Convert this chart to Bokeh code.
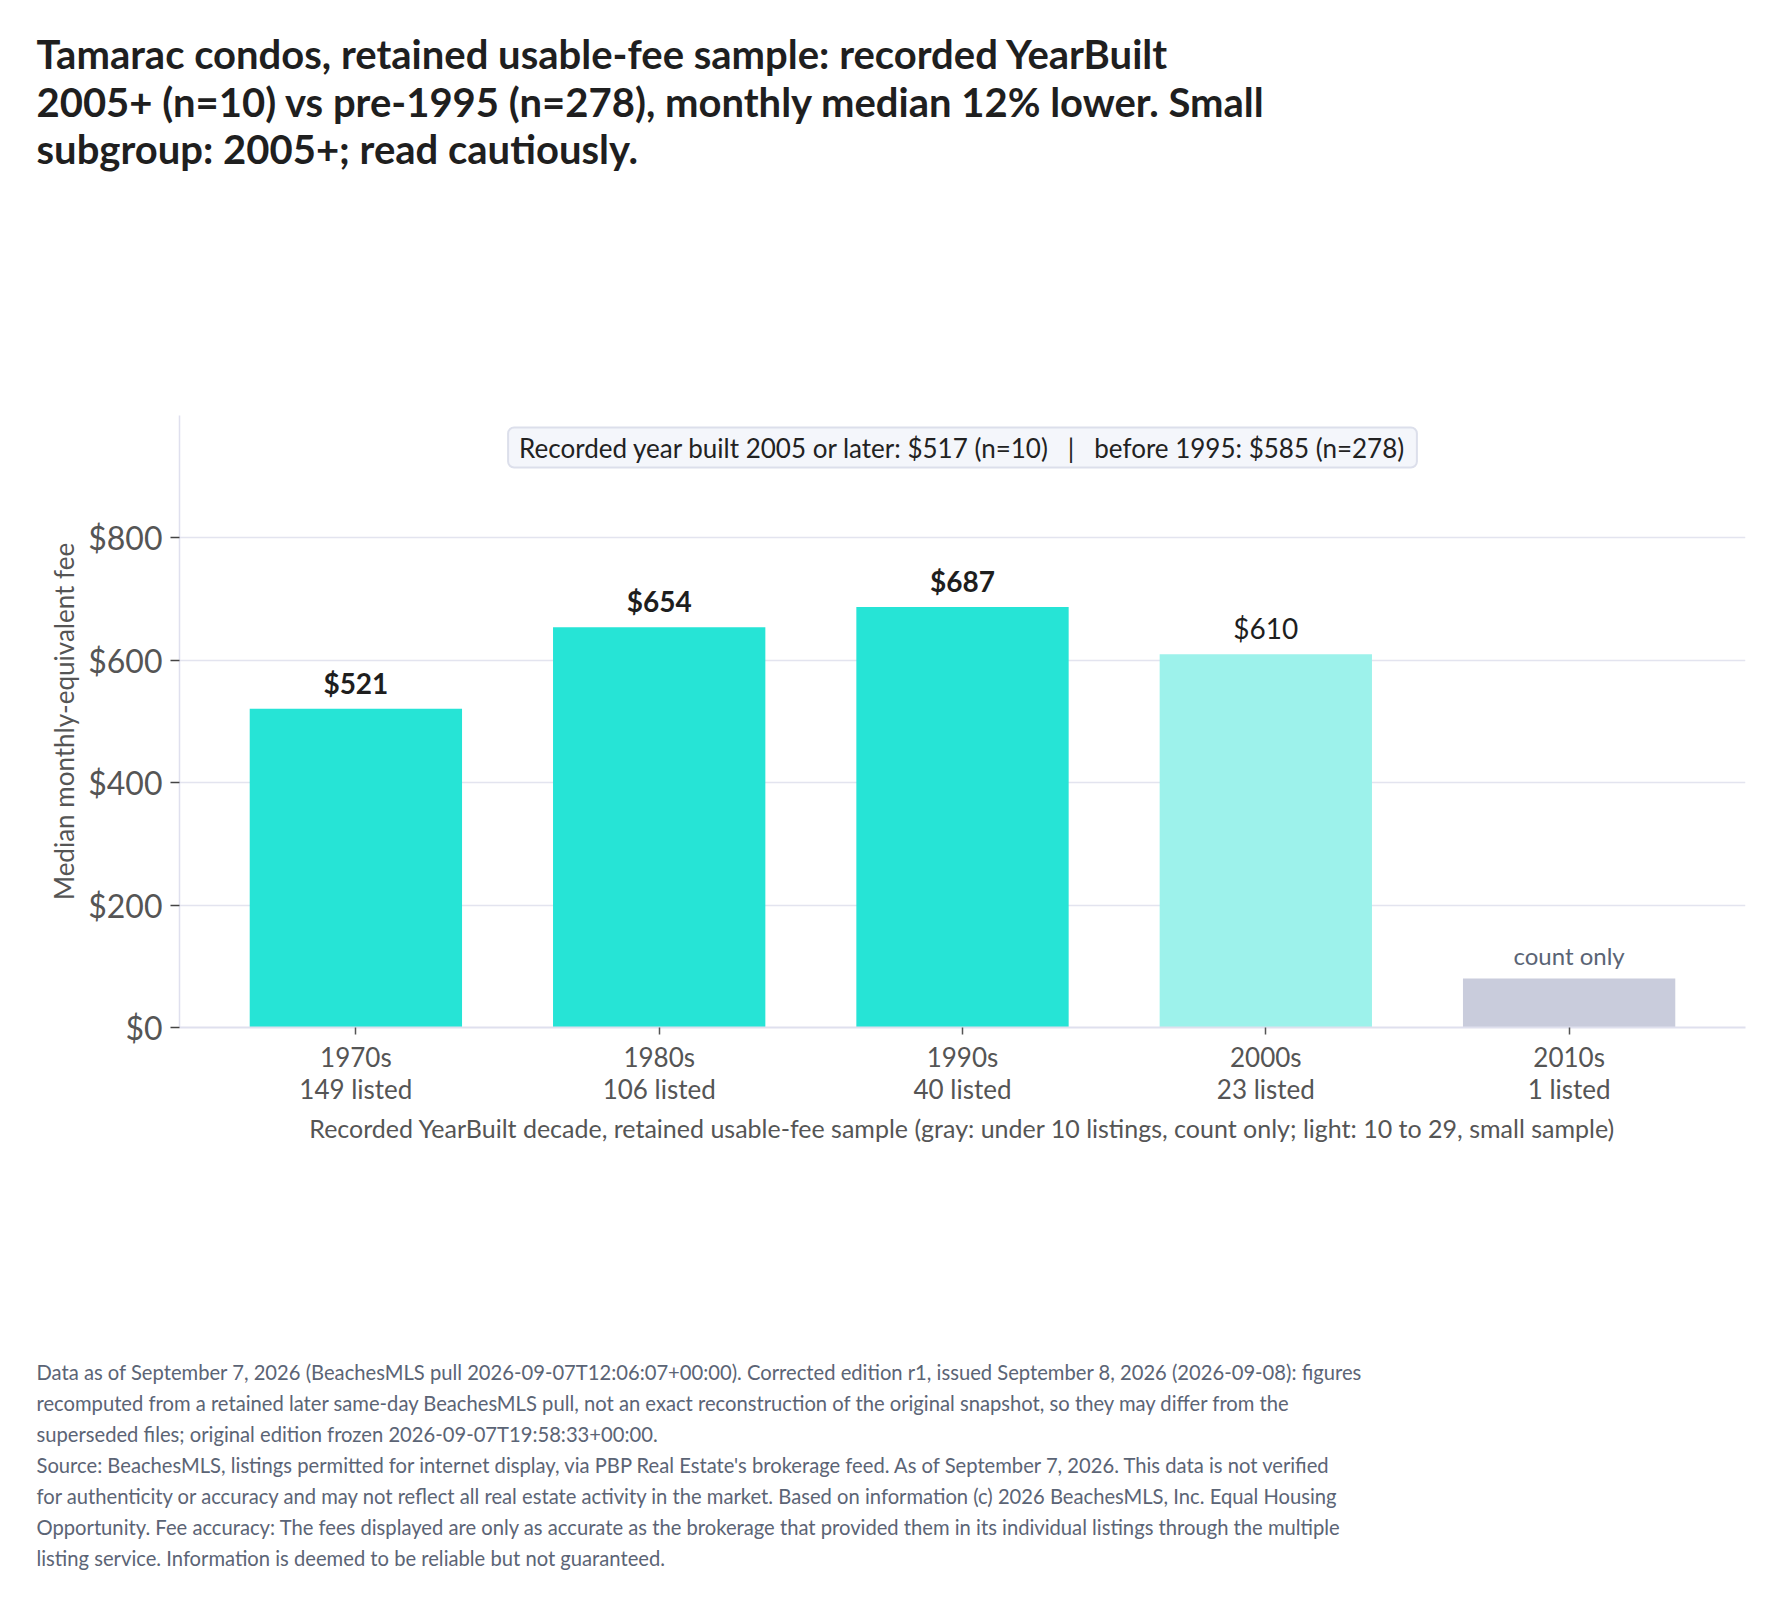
from bokeh.plotting import figure
from bokeh.models import (ColumnDataSource, FactorRange, Range1d, LabelSet, Label, Title,
                          FixedTicker, NumeralTickFormatter, CategoricalAxis)
from bokeh.core.properties import value
from bokeh.embed import file_html
from bokeh.resources import INLINE

# ---- data ----
decades = ["1970s", "1980s", "1990s", "2000s", "2010s"]
listed = [149, 106, 40, 23, 1]
median_fee = [521, 654, 687, 610, None]
count_only_stub = 80  # height of the gray placeholder bar for count-only groups
y_ticks = [0, 200, 400, 600, 800]

title_lines = [
    "Tamarac condos, retained usable-fee sample: recorded YearBuilt",
    "2005+ (n=10) vs pre-1995 (n=278), monthly median 12% lower. Small",
    "subgroup: 2005+; read cautiously.",
]
NB = "\u00a0"
summary_text = ("Recorded year built 2005 or later: $517 (n=10)" + NB * 3 + "|" + NB * 3 +
                "before 1995: $585 (n=278)")
x_title = ("Recorded YearBuilt decade, retained usable-fee sample (gray: under 10 listings, "
           "count only; light: 10 to 29, small sample)")
y_title = "Median monthly-equivalent fee"
footer_lines = [
    "Data as of September 7, 2026 (BeachesMLS pull 2026-09-07T12:06:07+00:00). Corrected edition r1, issued September 8, 2026 (2026-09-08): figures",
    "recomputed from a retained later same-day BeachesMLS pull, not an exact reconstruction of the original snapshot, so they may differ from the",
    "superseded files; original edition frozen 2026-09-07T19:58:33+00:00.",
    "Source: BeachesMLS, listings permitted for internet display, via PBP Real Estate's brokerage feed. As of September 7, 2026. This data is not verified",
    "for authenticity or accuracy and may not reflect all real estate activity in the market. Based on information (c) 2026 BeachesMLS, Inc. Equal Housing",
    "Opportunity. Fee accuracy: The fees displayed are only as accurate as the brokerage that provided them in its individual listings through the multiple",
    "listing service. Information is deemed to be reliable but not guaranteed.",
]

FONT = "Lato"
MAIN, LIGHT, GRAY = "#26e4d6", "#9df2eb", "#c9ccdc"


def color_for(n):
    if n < 10:
        return GRAY
    if n < 30:
        return LIGHT
    return MAIN


heights = [v if v is not None else count_only_stub for v in median_fee]
colors = [color_for(n) for n in listed]
count_labels = ["%d listed" % n for n in listed]
src = ColumnDataSource(dict(decade=decades, value=heights, color=colors))

W, H = 1766, 1589
FL, FR, FT, FB = 179, 1745, 415, 1027   # frame edges in page pixels
PAD = 0.0326

p = figure(x_range=FactorRange(factors=decades, range_padding=PAD),
           y_range=Range1d(0, 1000), width=W, height=H,
           output_backend="svg", toolbar_location=None, title=None,
           min_border_left=FL, min_border_right=W - FR,
           min_border_top=FT, min_border_bottom=H - FB)
p.outline_line_color = None
p.extra_x_ranges = {"counts": FactorRange(factors=count_labels, range_padding=PAD)}

p.vbar(x="decade", top="value", width=0.7, color="color", line_color=None, source=src)


def sub(cond, texts):
    idx = [i for i in range(len(decades)) if cond(listed[i])]
    return ColumnDataSource(dict(decade=[decades[i] for i in idx],
                                 value=[heights[i] for i in idx],
                                 text=[texts[i] for i in idx]))


val_text = ["$%d" % v if v is not None else "count only" for v in median_fee]
for cond, style, size, col in [
    (lambda n: n >= 30, "bold", "28px", "#1e1e1e"),
    (lambda n: 10 <= n < 30, "normal", "28px", "#1e1e1e"),
    (lambda n: n < 10, "normal", "24px", "#5a6475"),
]:
    p.add_layout(LabelSet(x="decade", y="value", text="text", source=sub(cond, val_text),
                          y_offset=9, text_align="center", text_baseline="bottom",
                          text_font=value(FONT), text_font_style=value(style),
                          text_font_size=value(size), text_color=value(col)))

yax = p.yaxis[0]
yax.ticker = FixedTicker(ticks=y_ticks)
yax.formatter = NumeralTickFormatter(format="$0,0")
yax.axis_label = y_title
yax.axis_label_text_font = FONT
yax.axis_label_text_font_style = "normal"
yax.axis_label_text_font_size = "26px"
yax.axis_label_text_color = "#555555"
yax.axis_label_standoff = 5
yax.major_label_text_font = FONT
yax.major_label_text_font_size = "32px"
yax.major_label_text_color = "#555555"
yax.major_label_standoff = 8
yax.axis_line_color = "#dfe0ee"
yax.axis_line_width = 1.5
yax.major_tick_line_color = "#444444"
yax.major_tick_line_width = 1.5
yax.major_tick_out = 9
yax.major_tick_in = 0
yax.minor_tick_line_color = None

# first line of x tick labels (decade)
xax = p.xaxis[0]
xax.major_label_text_font = FONT
xax.major_label_text_font_size = "26px"
xax.major_label_text_color = "#555555"
xax.major_label_standoff = 6
xax.axis_line_color = "#dfe0ee"
xax.axis_line_width = 2
xax.major_tick_line_color = "#555555"
xax.major_tick_line_width = 1.5
xax.major_tick_out = 7
xax.major_tick_in = 0

# second line of x tick labels (listing counts) + axis title
xax2 = CategoricalAxis(x_range_name="counts")
xax2.major_label_text_font = FONT
xax2.major_label_text_font_size = "26px"
xax2.major_label_text_color = "#555555"
xax2.major_label_standoff = -3
xax2.axis_line_color = None
xax2.major_tick_line_color = None
xax2.minor_tick_line_color = None
xax2.major_tick_out = 0
xax2.major_tick_in = 0
xax2.axis_label = x_title
xax2.axis_label_text_font = FONT
xax2.axis_label_text_font_style = "normal"
xax2.axis_label_text_font_size = "25px"
xax2.axis_label_text_color = "#555555"
xax2.axis_label_standoff = 5
p.add_layout(xax2, "below")

p.xgrid.visible = False
p.ygrid.grid_line_color = "#e3e4ef"
p.ygrid.grid_line_width = 1.5

p.add_layout(Label(x=(FR - FL) / 2, y=FB - 447, x_units="screen", y_units="screen",
                   text=summary_text, text_align="center", text_baseline="middle",
                   text_font=FONT, text_font_size="26px", text_color="#222222",
                   background_fill_color="#f4f6fb", border_line_color="#dcdfeb",
                   border_line_width=2, padding=(11, 4), border_radius=6))

# ---- title block (above the frame) ----
p.add_layout(Title(text=NB, text_font_size="1px", standoff=239), "above")  # spacer
p.add_layout(Title(text="\n".join(title_lines), align="left", offset=36 - FL,
                   vertical_align="bottom", standoff=0,
                   text_font=FONT, text_font_style="bold", text_font_size="40px",
                   text_line_height=0.99, text_color="#1f1f1f"), "above")

# ---- footer block (below the axes) ----
p.add_layout(Title(text=NB, text_font_size="1px", standoff=211), "below")  # spacer
p.add_layout(Title(text="\n".join(footer_lines), align="left", offset=36 - FL,
                   vertical_align="top", standoff=0,
                   text_font=FONT, text_font_style="normal", text_font_size="20.2px",
                   text_line_height=1.292, text_color="#5b6475"), "below")

open("out.html", "w").write(file_html(p, INLINE))
